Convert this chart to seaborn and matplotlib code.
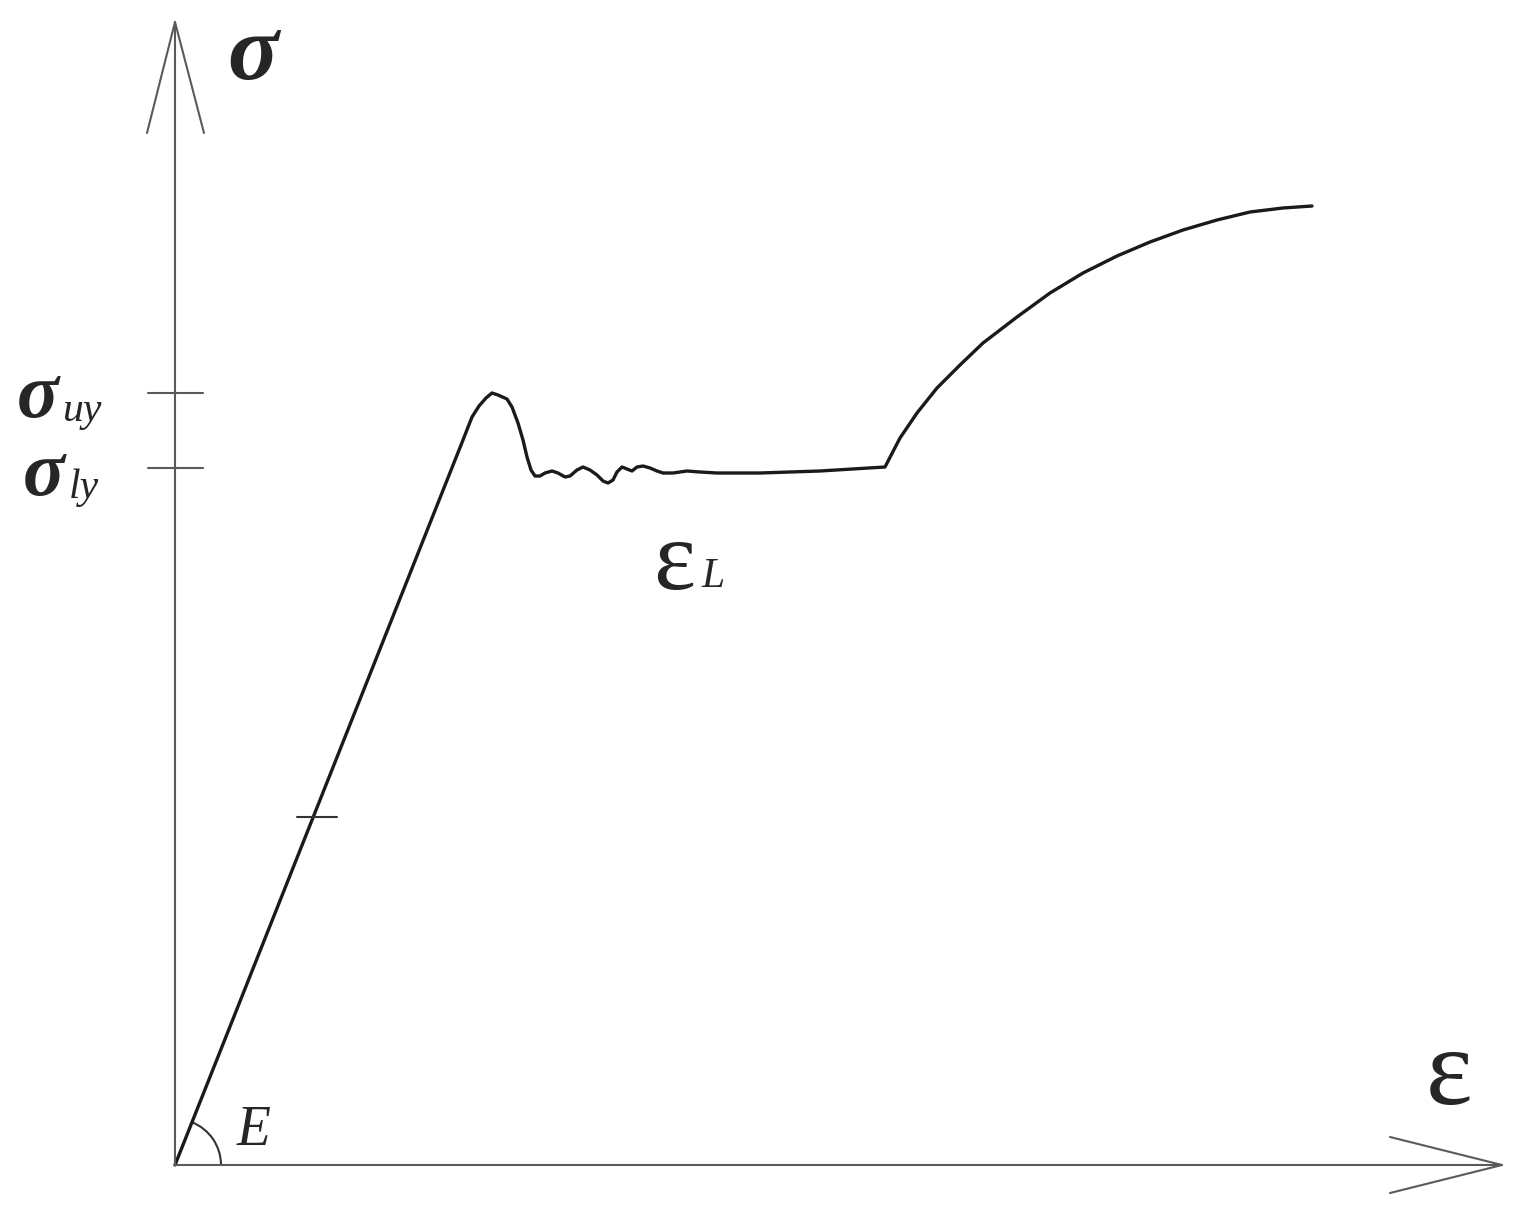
import numpy as np
import pandas as pd
import matplotlib
matplotlib.use("Agg")
import matplotlib.pyplot as plt
import seaborn as sns
from matplotlib.patches import Arc

# stress-strain curve (strain, stress), origin at axes corner
strain = [0, 288, 297, 304, 311, 317, 323, 332, 337, 343, 348, 352, 356, 360,
          365, 370, 377, 383, 390, 395, 402, 408, 415, 422, 428, 433, 438, 442,
          447, 452, 457, 462, 468, 475, 482, 488, 498, 512, 525, 542, 565, 585,
          645, 710, 725, 742, 762, 785, 808, 842, 875, 908, 942, 975, 1008,
          1042, 1075, 1108, 1137]
stress = [0, 725, 748, 759, 767, 772, 770, 766, 758, 742, 725, 708, 695, 689,
          689, 692, 694, 692, 688, 689, 695, 698, 695, 690, 684, 682, 685, 693,
          698, 696, 694, 698, 699, 697, 694, 692, 692, 694, 693, 692, 692, 692,
          694, 698, 727, 752, 777, 800, 822, 848, 872, 892, 909, 923, 935,
          945, 953, 957, 959]

sigma_uy = 772
sigma_ly = 697
mark_stress = 348   # small mark on the elastic line
elastic_slope = 2.52

sns.set_style("white")
plt.rcParams['font.family'] = ['Liberation Serif', 'DejaVu Serif']

fig = plt.figure(figsize=(15.24, 12.22), dpi=100)
ax = fig.add_axes([0, 0, 1, 1])
ax.set_xlim(-175, 1349)
ax.set_ylim(-57, 1165)
ax.axis('off')

df = pd.DataFrame({'strain': strain, 'stress': stress})
sns.lineplot(data=df, x='strain', y='stress', sort=False, color='#1a1a1a',
             lw=2.4, ax=ax, estimator=None, solid_joinstyle='round',
             solid_capstyle='round')

axis_col = '#5a5a5a'
# axes with open arrowheads
ax.plot([0, 0], [0, 1143], color=axis_col, lw=1.5)
ax.plot([-28, 0, 29], [1032, 1143, 1032], color=axis_col, lw=1.5)
ax.plot([0, 1327], [0, 0], color=axis_col, lw=1.5)
ax.plot([1215, 1327, 1215], [28, 0, -28], color=axis_col, lw=1.5)

# yield stress marks
for s in [sigma_uy, sigma_ly]:
    ax.plot([-27, 28], [s, s], color=axis_col, lw=1.5)
mx = mark_stress / elastic_slope
ax.plot([mx - 16, mx + 24], [mark_stress, mark_stress], color='#333333', lw=1.5)

# angle arc for E
ang = np.degrees(np.arctan(elastic_slope))
ax.add_patch(Arc((0, 0), 92, 92, theta1=0, theta2=ang, color='#333333', lw=1.5))

# labels
ax.text(52, 1108, 'σ', fontsize=68, style='italic', weight='bold',
        ha='left', va='center')
ax.text(-158, sigma_uy - 5, 'σ', fontsize=56, style='italic', weight='bold',
        ha='left', va='center')
ax.text(-112, sigma_uy - 18, 'uy', fontsize=30, style='italic',
        ha='left', va='center')
ax.text(-152, sigma_ly - 8, 'σ', fontsize=56, style='italic', weight='bold',
        ha='left', va='center')
ax.text(-106, sigma_ly - 20, 'ly', fontsize=30, style='italic',
        ha='left', va='center')
ax.text(478, 600, 'ε', fontsize=72, ha='left', va='center')
ax.text(526, 588, 'L', fontsize=30, style='italic', ha='left', va='center')
ax.text(1251, 88, 'ε', fontsize=80, ha='left', va='center')
ax.text(62, 34, 'E', fontsize=40, style='italic', ha='left', va='center')

fig.savefig('out.png', dpi=100, facecolor='white')
